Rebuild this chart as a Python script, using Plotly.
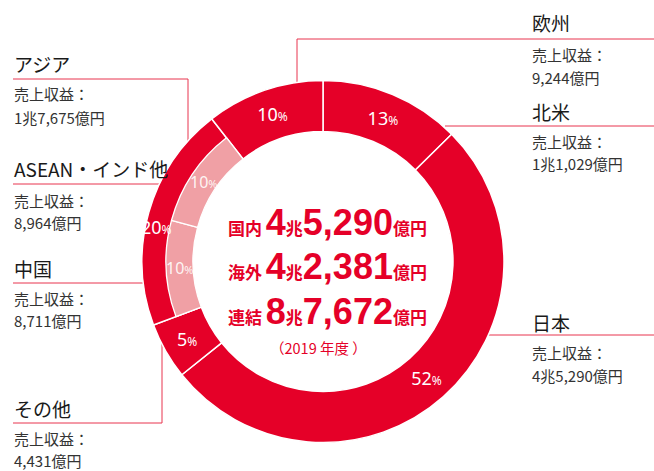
import math
import plotly.graph_objects as go

W, H = 654, 471

# ---- data ----
outer_labels = ["北米", "日本", "その他", "アジア", "欧州"]
outer_values = [11029, 45290, 4431, 17675, 9244]
outer_pct = ["13", "52", "5", "20", "10"]

inner_labels = ["北米", "日本", "その他", "中国", "ASEAN・インド他", "欧州"]
inner_values = [11029, 45290, 4431, 8711, 8964, 9244]
inner_pct = ["", "", "", "10", "10", ""]

legend_names = ["アジア", "ASEAN・インド他", "中国", "その他", "欧州", "北米", "日本"]
legend_amounts = ["1兆7,675億円", "8,964億円", "8,711億円", "4,431億円",
                  "9,244億円", "1兆1,029億円", "4兆5,290億円"]

center_labels = ["国内", "海外", "連結"]
center_values = [45290, 42381, 87672]  # 億円
fiscal_year = "2019"

RED = "#E50028"
PINK = "#F0A0A5"
LINE = "#E8344F"
JP = "Noto Sans CJK JP"

# ---- geometry (pixels) ----
CX, CY = 323, 261.5
R_OUT, R_MID, R_IN = 181, 157, 130


def dom(r):
    return dict(x=[(CX - r) / W, (CX + r) / W],
                y=[(H - CY - r) / H, (H - CY + r) / H])


def px(x, y):
    return x / W, 1 - y / H


def pct_text(p, big, small):
    if not p:
        return ""
    return f"<span style='font-size:{big}px'>{p}</span><span style='font-size:{small}px'>%</span>"


def slice_mid(values, i):
    tot = sum(values)
    return (sum(values[:i]) + values[i] / 2) / tot * 360


def polar_px(angle_deg, r):
    return CX + r * math.sin(math.radians(angle_deg)), CY - r * math.cos(math.radians(angle_deg))


fig = go.Figure()

# outer full ring
fig.add_trace(go.Pie(
    labels=outer_labels, values=outer_values, sort=False, direction="clockwise",
    rotation=0, hole=R_IN / R_OUT, domain=dom(R_OUT),
    marker=dict(colors=[RED] * 5, line=dict(color="white", width=1.5)),
    text=[pct_text(p, 18, 12) if lab != "アジア" else "" for p, lab in zip(outer_pct, outer_labels)],
    textinfo="text", textposition="inside", insidetextorientation="horizontal",
    textfont=dict(family="Noto Sans", color="white", size=18),
    hoverinfo="skip", showlegend=False,
))

# inner pink band for Asia breakdown
fig.add_trace(go.Pie(
    labels=inner_labels, values=inner_values, sort=False, direction="clockwise",
    rotation=0, hole=R_IN / R_MID, domain=dom(R_MID),
    marker=dict(colors=["rgba(0,0,0,0)"] * 3 + [PINK, PINK] + ["rgba(0,0,0,0)"],
                line=dict(color="white", width=[0, 0, 0, 1.3, 1.3, 0])),
    textinfo="none", hoverinfo="skip", showlegend=False,
))

annotations = []

# ---- Asia percentage label in the outer red band ----
ia = outer_labels.index("アジア")
x, yy = px(*polar_px(slice_mid(outer_values, ia) - 4, (R_MID + R_OUT) / 2 + 1))
annotations.append(dict(x=x, y=yy, xref="paper", yref="paper", text=pct_text(outer_pct[ia], 18, 12),
                        showarrow=False, xanchor="center", yanchor="middle",
                        font=dict(family="Noto Sans", color="white", size=18)))

# ---- pink band labels ----
for i, p in enumerate(inner_pct):
    if not p:
        continue
    x, yy = px(*polar_px(slice_mid(inner_values, i), (R_IN + R_MID) / 2))
    annotations.append(dict(x=x, y=yy, xref="paper", yref="paper", text=pct_text(p, 16, 11),
                            showarrow=False, xanchor="center", yanchor="middle",
                            font=dict(family="Noto Sans", color="rgba(255,255,255,0.9)", size=16)))

# ---- center text ----
row_y = [222, 266, 311]
for lab, v, y in zip(center_labels, center_values, row_y):
    cho, oku = divmod(v, 10000)
    t = (f"<span style='font-size:17px'><b>{lab}</b></span> "
         f"<span style='font-family:Liberation Sans;font-size:36px'><b>{cho}</b></span>"
         f"<span style='font-size:17px'><b>兆</b></span>"
         f"<span style='font-family:Liberation Sans;font-size:36px'><b>{oku:,}</b></span>"
         f"<span style='font-size:17px'><b>億円</b></span>")
    x, yy = px(327, y)
    annotations.append(dict(x=x, y=yy, xref="paper", yref="paper", text=t, showarrow=False,
                            xanchor="center", yanchor="middle",
                            font=dict(family=JP, color=RED, size=17)))
x, yy = px(318, 347)
annotations.append(dict(x=x, y=yy, xref="paper", yref="paper",
                        text=f"（{fiscal_year} 年度 ）", showarrow=False,
                        xanchor="center", yanchor="middle",
                        font=dict(family=JP, color=RED, size=14.5)))

# ---- side labels ----
# (x_left, title_y, sub_y, amount_y)
side_pos = {
    "アジア": (12, 64, 94, 118),
    "ASEAN・インド他": (12, 169, 200, 222),
    "中国": (12, 268, 298, 320),
    "その他": (12, 408, 438, 460),
    "欧州": (530, 23, 55, 78),
    "北米": (530, 112, 142, 164),
    "日本": (530, 322, 352, 375),
}
for name, amt in zip(legend_names, legend_amounts):
    xl, ty, sy, ay = side_pos[name]
    for txt, y, sz, col in [(name, ty, 19, "#1a1a1a"), ("売上収益：", sy, 15, "#333333"),
                            (amt, ay, 15, "#333333")]:
        x, yy = px(xl, y)
        annotations.append(dict(x=x, y=yy, xref="paper", yref="paper", text=txt,
                                showarrow=False, xanchor="left", yanchor="middle",
                                font=dict(family=JP, color=col, size=sz)))

# ---- leader lines (pixels) ----
paths = [
    [(13, 79), (188, 79), (188, 142)],      # アジア
    [(13, 184), (192, 184)],                 # ASEAN
    [(13, 283), (180, 283)],                 # 中国
    [(13, 423), (162, 423), (162, 342)],     # その他
    [(654, 39), (297, 39), (297, 82)],       # 欧州
    [(654, 126), (445, 126)],                # 北米
    [(654, 335), (488, 335)],                # 日本
]
shapes = []
for p in paths:
    for (x0, y0), (x1, y1) in zip(p[:-1], p[1:]):
        a0, b0 = px(x0, y0)
        a1, b1 = px(x1, y1)
        shapes.append(dict(type="line", xref="paper", yref="paper", x0=a0, y0=b0, x1=a1, y1=b1,
                           line=dict(color=LINE, width=1), layer="below"))

fig.update_layout(
    width=W, height=H, margin=dict(l=0, r=0, t=0, b=0),
    paper_bgcolor="white", plot_bgcolor="white",
    annotations=annotations, shapes=shapes, showlegend=False,
)

fig.write_html("out.html", config={"displayModeBar": False},
               post_script="document.body.style.margin='0';document.body.style.overflow='hidden';")
